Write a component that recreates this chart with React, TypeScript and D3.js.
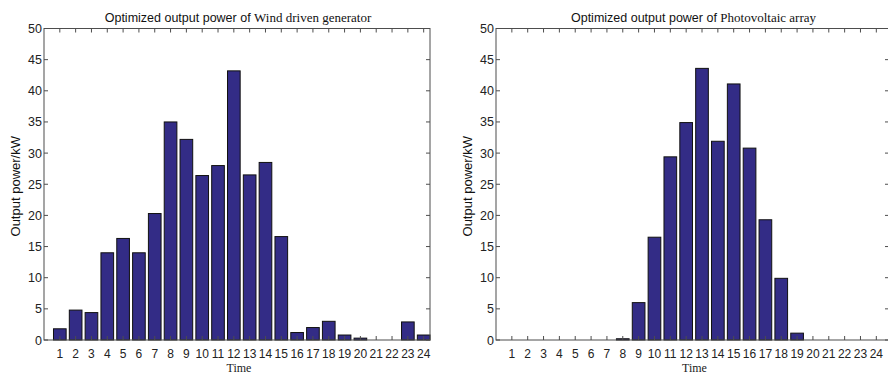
import React from "react"
import * as d3 from "d3"

const hours = d3.range(1, 25)

const windPower = [
  1.8, 4.8, 4.4, 14.0, 16.3, 14.0, 20.3, 35.0, 32.2, 26.4, 28.0, 43.2,
  26.5, 28.5, 16.6, 1.2, 2.0, 3.0, 0.8, 0.3, 0, 0, 2.9, 0.8,
]

const pvPower = [
  0, 0, 0, 0, 0, 0, 0, 0.2, 6.0, 16.5, 29.4, 34.9,
  43.6, 31.9, 41.1, 30.8, 19.3, 9.9, 1.1, 0, 0, 0, 0, 0,
]

const yTicks = d3.range(0, 51, 5)

const sans = "'Liberation Sans', Arial, sans-serif"
const serif = "'Liberation Serif', 'Times New Roman', serif"
const axisColor = "#4d4d4d"
const barFill = "#332c86"

type PanelProps = {
  titleSans: string
  titleSerif: string
  values: number[]
  left: number
  right: number
  xMax: number
  labelX: number
}

const top = 28.5
const bottom = 340

const Panel = ({ titleSans, titleSerif, values, left, right, xMax, labelX }: PanelProps) => {
  const x = d3.scaleLinear().domain([0, xMax]).range([left, right])
  const y = d3.scaleLinear().domain([0, 50]).range([bottom, top])
  const bw = (x(1) - x(0)) * 0.8
  const tick = 4

  return (
    <g>
      {/* title */}
      <text
        x={(left + right) / 2 + 1}
        y={22}
        textAnchor="middle"
        fontSize={12.5}
        fill="#111"
      >
        <tspan fontFamily={sans}>{titleSans}</tspan>
        <tspan fontFamily={serif} fontSize={13}>{titleSerif}</tspan>
      </text>

      {/* bars */}
      {values.map((v, i) =>
        v > 0 ? (
          <rect
            key={i}
            x={x(hours[i]) - bw / 2}
            y={y(v)}
            width={bw}
            height={bottom - y(v)}
            fill={barFill}
            stroke="#111"
            strokeWidth={1}
          />
        ) : null
      )}

      {/* box */}
      <rect
        x={left}
        y={top}
        width={right - left}
        height={bottom - top}
        fill="none"
        stroke={axisColor}
        strokeWidth={1}
      />

      {/* x ticks */}
      {hours.map(h => (
        <g key={h}>
          <line x1={x(h)} x2={x(h)} y1={top} y2={top + tick} stroke={axisColor} />
          <line x1={x(h)} x2={x(h)} y1={bottom} y2={bottom - tick} stroke={axisColor} />
          <text
            x={x(h)}
            y={358}
            textAnchor="middle"
            fontFamily={sans}
            fontSize={12}
            fill="#222"
          >
            {h}
          </text>
        </g>
      ))}

      {/* y ticks */}
      {yTicks.map(t => (
        <g key={t}>
          <line x1={left} x2={left + tick} y1={y(t)} y2={y(t)} stroke={axisColor} />
          <line x1={right} x2={right - tick} y1={y(t)} y2={y(t)} stroke={axisColor} />
          <text
            x={left - 2}
            y={y(t) + 4.5}
            textAnchor="end"
            fontFamily={sans}
            fontSize={12.5}
            fill="#222"
          >
            {t}
          </text>
        </g>
      ))}

      {/* axis labels */}
      <text
        transform={`translate(${labelX},${(top + bottom) / 2 + 2}) rotate(-90)`}
        textAnchor="middle"
        fontFamily={sans}
        fontSize={13}
        fill="#111"
      >
        Output power/kW
      </text>
      <text
        x={(left + right) / 2 + 2}
        y={372}
        textAnchor="middle"
        fontFamily={serif}
        fontSize={12}
        fill="#222"
      >
        Time
      </text>
    </g>
  )
}

export default function App() {
  return (
    <div style={{ position: "fixed", left: 0, top: 0 }}>
      <svg width={888} height={376} style={{ display: "block", background: "#fff" }}>
        <Panel
          titleSans="Optimized output power of "
          titleSerif="Wind driven generator"
          values={windPower}
          left={44}
          right={430}
          xMax={24.4}
          labelX={20}
        />
        <Panel
          titleSans="Optimized output power of "
          titleSerif="Photovoltaic array"
          values={pvPower}
          left={496}
          right={889}
          xMax={24.8}
          labelX={472}
        />
      </svg>
    </div>
  )
}
